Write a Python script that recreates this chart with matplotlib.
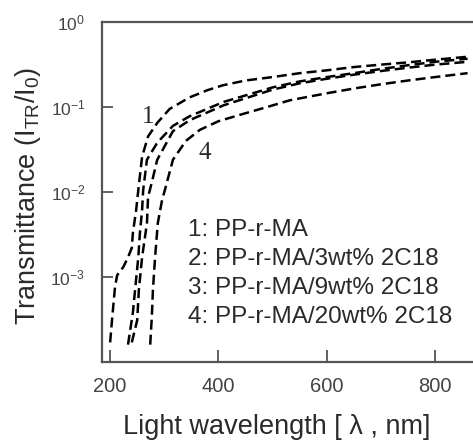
import numpy as np
import matplotlib
matplotlib.use("Agg")
import matplotlib.pyplot as plt

# ---- data ----
wl1 = [200, 204, 209, 213, 224, 233, 240, 242, 248, 252, 259, 270, 287, 310, 347, 380, 408, 450, 500, 550, 600, 650, 700, 750, 800, 860]
T1 = [1.7e-4, 3.4e-4, 7.6e-4, 1.05e-3, 1.3e-3, 1.7e-3, 2.2e-3, 3.3e-3, 6.1e-3, 1.05e-2, 2.6e-2, 4.5e-2, 6.5e-2, 9.5e-2, 0.13, 0.158, 0.18, 0.205, 0.225, 0.25, 0.27, 0.295, 0.315, 0.335, 0.36, 0.39]

wl2 = [233, 242, 246, 252, 255, 259, 261, 268, 287, 316, 347, 410, 500, 550, 600, 650, 700, 750, 800, 860]
T2 = [1.6e-4, 3.8e-4, 7e-4, 1.7e-3, 3.3e-3, 6.1e-3, 1.05e-2, 2.4e-2, 3.8e-2, 6.0e-2, 7.8e-2, 0.115, 0.17, 0.2, 0.225, 0.25, 0.28, 0.31, 0.34, 0.37]

wl3 = [240, 250, 253, 259, 268, 270, 277, 287, 316, 347, 410, 500, 550, 600, 650, 700, 750, 800, 860]
T3 = [1.7e-4, 3.1e-4, 7e-4, 1.7e-3, 4.3e-3, 8.7e-3, 1.3e-2, 2.4e-2, 5.2e-2, 7.0e-2, 0.105, 0.16, 0.19, 0.215, 0.24, 0.265, 0.29, 0.315, 0.34]

wl4 = [274, 277, 279, 283, 288, 296, 301, 316, 340, 366, 400, 440, 490, 532, 600, 650, 700, 750, 800, 860]
T4 = [1.6e-4, 3.4e-4, 7e-4, 1.7e-3, 4.3e-3, 8.1e-3, 1.05e-2, 2.4e-2, 4.0e-2, 5.4e-2, 6.8e-2, 8.1e-2, 0.1, 0.12, 0.145, 0.165, 0.185, 0.205, 0.225, 0.25]

legend_lines = ["1: PP-r-MA", "2: PP-r-MA/3wt% 2C18", "3: PP-r-MA/9wt% 2C18", "4: PP-r-MA/20wt% 2C18"]
xticks = [200, 400, 600, 800]
yticks = [1e0, 1e-1, 1e-2, 1e-3]
ytick_labels = [r"$\mathregular{10^{0}}$", r"$\mathregular{10^{-1}}$", r"$\mathregular{10^{-2}}$", r"$\mathregular{10^{-3}}$"]

plt.rcParams['font.family'] = ['Liberation Sans', 'DejaVu Sans']

W, H = 473, 443
fig = plt.figure(figsize=(W / 100, H / 100), dpi=100)
ax = fig.add_axes([102/W, 1 - 362/H, 1 - 102/W, (362 - 22)/H])

ink = "#2a2a2a"
for wl, T in [(wl1, T1), (wl2, T2), (wl3, T3), (wl4, T4)]:
    ax.plot(wl, T, color="black", lw=1.8, ls=(0, (4, 2)))

ax.set_yscale("log")
ax.set_xlim(185, 870)
ax.set_ylim(1e-4, 1e0)

ax.set_xticks(xticks)
ax.set_xticklabels([str(v) for v in xticks])
ax.set_yticks(yticks)
ax.set_yticklabels(ytick_labels)
ax.yaxis.set_minor_locator(matplotlib.ticker.NullLocator())
ax.xaxis.set_minor_locator(matplotlib.ticker.NullLocator())

ax.tick_params(axis="x", direction="in", length=9, width=1.3, color="#555555",
               labelsize=14.5, labelcolor="#444444", pad=11)
ax.tick_params(axis="y", direction="in", length=8, width=1.3, color="#555555",
               labelsize=12.5, labelcolor="#444444", pad=12)

for s in ["left", "bottom", "top"]:
    ax.spines[s].set_color("#555555")
    ax.spines[s].set_linewidth(1.6)
ax.spines["right"].set_visible(False)

fig.text(277/W, 1 - 427/H, "Light wavelength [ λ , nm]", fontsize=19.5, color=ink,
         ha="center", va="center")
fig.text(28/W, 1 - 196/H, r"Transmittance (I$\mathregular{_{TR}}$/I$\mathregular{_{0}}$)",
         fontsize=19.5, color=ink, ha="center", va="center", rotation=90)

# curve labels
ax.text(270, 0.077, "1", fontsize=18, family="Liberation Serif", color=ink, ha="center", va="center")
ax.text(375, 0.029, "4", fontsize=18, family="Liberation Serif", color=ink, ha="center", va="center")

# legend text
for i, t in enumerate(legend_lines):
    ax.text(0.232, 0.388 - i * 0.0853, t, transform=ax.transAxes, fontsize=17.5,
            color=ink, ha="left", va="center")

fig.savefig("out.png", dpi=100)
